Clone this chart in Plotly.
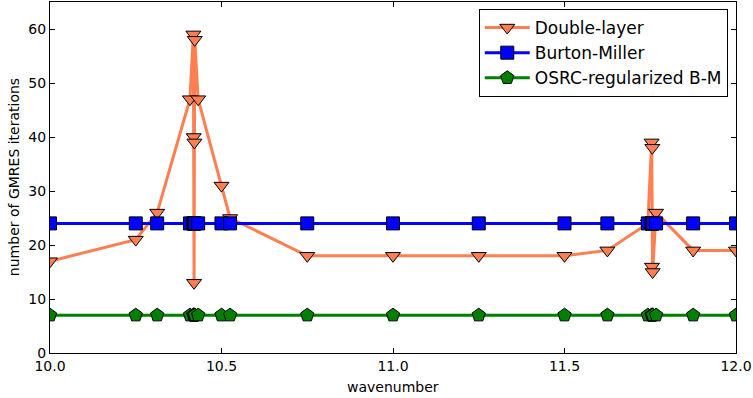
import plotly.graph_objects as go

# wavenumbers (shared by all three formulations)
wavenumber = [10.0, 10.25, 10.3125, 10.408, 10.418, 10.419, 10.420, 10.421, 10.422, 10.432,
              10.5, 10.525, 10.75, 11.0, 11.25, 11.5, 11.625, 11.743, 11.754, 11.755,
              11.756, 11.757, 11.767, 11.875, 12.0]
double_layer = [17, 21, 26, 47, 59, 40, 13, 39, 58, 47,
                31, 25, 18, 18, 18, 18, 19, 24, 39, 16,
                38, 15, 26, 19, 19]
burton_miller = [24] * len(wavenumber)
osrc_bm = [7] * len(wavenumber)

x_ticks = [10.0, 10.5, 11.0, 11.5, 12.0]
y_ticks = [0, 10, 20, 30, 40, 50, 60]

FONT = "DejaVu Sans"

fig = go.Figure()
fig.add_trace(go.Scatter(
    x=wavenumber, y=double_layer, mode="lines+markers", name="Double-layer",
    line=dict(color="#FF7F50", width=3),
    marker=dict(symbol="triangle-down", size=13, color="#FF7F50",
                line=dict(color="black", width=1))))
fig.add_trace(go.Scatter(
    x=wavenumber, y=burton_miller, mode="lines+markers", name="Burton-Miller",
    line=dict(color="#0000FF", width=3),
    marker=dict(symbol="square", size=13, color="#0000FF",
                line=dict(color="black", width=1))))
fig.add_trace(go.Scatter(
    x=wavenumber, y=osrc_bm, mode="lines+markers", name="OSRC-regularized B-M",
    line=dict(color="#008000", width=3),
    marker=dict(symbol="pentagon", size=14, color="#008000",
                line=dict(color="black", width=1))))

axis_common = dict(showgrid=False, zeroline=False, showline=True, linecolor="black",
                   linewidth=1, mirror="allticks", ticks="inside", ticklen=5,
                   tickcolor="black", tickwidth=1,
                   tickfont=dict(family=FONT, size=14, color="black"))

fig.update_xaxes(range=[10.0, 12.0], tickvals=x_ticks,
                 ticktext=[f"{v:.1f}" for v in x_ticks], **axis_common)
fig.update_yaxes(range=[0, 65], tickvals=y_ticks,
                 ticktext=[str(v) for v in y_ticks], **axis_common)

fig.update_layout(
    width=753, height=398,
    margin=dict(l=50, r=17, t=2, b=45),
    paper_bgcolor="white", plot_bgcolor="white",
    font=dict(family=FONT, size=14, color="black"),
    showlegend=True,
    legend=dict(x=0.988, y=0.98, xanchor="right", yanchor="top",
                bgcolor="white", bordercolor="black", borderwidth=1,
                font=dict(family=FONT, size=17, color="black"),
                itemwidth=45, tracegroupgap=0),
    annotations=[
        dict(text="wavenumber", xref="paper", yref="paper", x=0.5, y=-0.067,
             xanchor="center", yanchor="top", showarrow=False,
             font=dict(family=FONT, size=14, color="black")),
        dict(text="number of GMRES iterations", xref="paper", yref="paper",
             x=-0.053, y=0.5, xanchor="center", yanchor="middle", showarrow=False,
             textangle=-90, font=dict(family=FONT, size=14, color="black")),
    ],
)

fig.write_html("out.html", config={"displayModeBar": False},
               post_script="document.body.style.margin='0';")
